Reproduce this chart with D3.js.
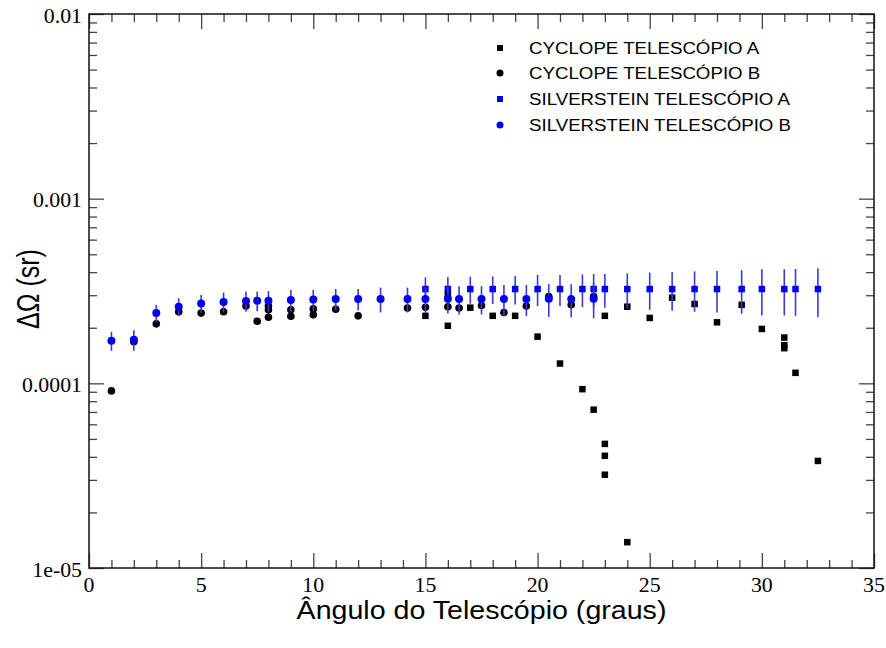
<!DOCTYPE html>
<html>
<head>
<meta charset="utf-8">
<script src="https://cdn.jsdelivr.net/npm/d3@7"></script>
<style>
  html, body { margin: 0; padding: 0; background: #fff; }
  svg { display: block; }
</style>
</head>
<body>
<svg id="chart" width="886" height="648"></svg>
<script>
// Solid angle of each telescope vs. telescope angle
const cyclopeA_x = [15, 16, 16, 17, 18, 19, 20, 21, 22, 22.5, 23, 23, 23, 23, 24, 24, 25, 26, 27, 28, 29.1, 30, 31, 31, 31, 31.5, 32.5];
const cyclopeA_y = [2.32e-4, 2.05e-4, 3.05e-4, 2.57e-4, 2.32e-4, 2.32e-4, 1.79e-4, 1.28e-4, 9.3e-5, 7.2e-5, 2.32e-4, 4.7e-5, 4.05e-5, 3.2e-5, 2.6e-4, 1.38e-5, 2.26e-4, 2.91e-4, 2.69e-4, 2.14e-4, 2.66e-4, 1.97e-4, 1.77e-4, 1.61e-4, 1.55e-4, 1.14e-4, 3.8e-5];

const cyclopeB_x = [1, 2, 3, 4, 5, 6, 7, 7.5, 8, 8, 8, 9, 9, 10, 10, 11, 12, 14.2, 15, 16, 16.5, 17.5, 18.5, 19.5, 20.5, 21.5, 22.5];
const cyclopeB_y = [9.1e-5, 1.68e-4, 2.10e-4, 2.44e-4, 2.40e-4, 2.44e-4, 2.62e-4, 2.17e-4, 2.62e-4, 2.50e-4, 2.28e-4, 2.50e-4, 2.31e-4, 2.53e-4, 2.35e-4, 2.52e-4, 2.32e-4, 2.56e-4, 2.58e-4, 2.60e-4, 2.56e-4, 2.64e-4, 2.42e-4, 2.62e-4, 2.95e-4, 2.66e-4, 2.95e-4];

const silverA_x = [15, 16, 17, 18, 19, 20, 21, 22, 22.5, 23, 24, 25, 26, 27, 28, 29.1, 30, 31, 31.5, 32.5];
const silverA_y = [3.24e-4, 3.24e-4, 3.24e-4, 3.24e-4, 3.24e-4, 3.24e-4, 3.24e-4, 3.24e-4, 3.24e-4, 3.24e-4, 3.24e-4, 3.24e-4, 3.24e-4, 3.24e-4, 3.24e-4, 3.24e-4, 3.24e-4, 3.24e-4, 3.24e-4, 3.24e-4];
const silverA_err = [0.50e-4, 0.52e-4, 0.54e-4, 0.55e-4, 0.57e-4, 0.62e-4, 0.62e-4, 0.65e-4, 0.67e-4, 0.67e-4, 0.70e-4, 0.74e-4, 0.77e-4, 0.80e-4, 0.82e-4, 0.86e-4, 0.91e-4, 0.91e-4, 0.92e-4, 0.96e-4];

const silverB_x = [1, 2, 3, 4, 5, 6, 7, 7.5, 8, 9, 10, 11, 12, 13, 14.2, 15, 16, 16.5, 17.5, 18.5, 19.5, 20.5, 21.5, 22.5];
const silverB_y = [1.70e-4, 1.72e-4, 2.40e-4, 2.60e-4, 2.71e-4, 2.76e-4, 2.79e-4, 2.80e-4, 2.80e-4, 2.83e-4, 2.84e-4, 2.86e-4, 2.86e-4, 2.86e-4, 2.86e-4, 2.86e-4, 2.87e-4, 2.86e-4, 2.86e-4, 2.86e-4, 2.86e-4, 2.87e-4, 2.86e-4, 2.87e-4];
const silverB_err = [0.20e-4, 0.22e-4, 0.26e-4, 0.29e-4, 0.30e-4, 0.34e-4, 0.35e-4, 0.34e-4, 0.36e-4, 0.37e-4, 0.37e-4, 0.38e-4, 0.38e-4, 0.44e-4, 0.44e-4, 0.46e-4, 0.48e-4, 0.50e-4, 0.50e-4, 0.55e-4, 0.55e-4, 0.58e-4, 0.58e-4, 0.62e-4];

const xMajorTicks = [0, 5, 10, 15, 20, 25, 30, 35];
const xTickLabels = ["0", "5", "10", "15", "20", "25", "30", "35"];
const yMajorTicks = [1e-5, 1e-4, 1e-3, 1e-2];
const yTickLabels = ["1e-05", "0.0001", "0.001", "0.01"];
const legendLabels = ["CYCLOPE TELESCÓPIO A", "CYCLOPE TELESCÓPIO B", "SILVERSTEIN TELESCÓPIO A", "SILVERSTEIN TELESCÓPIO B"];

const svg = d3.select("#chart");
const L = 89, R = 874, T = 14, B = 568;
const x = d3.scaleLinear().domain([0, 35]).range([L, R]);
const y = d3.scaleLog().domain([1e-5, 1e-2]).range([B, T]);

const xMinor = d3.range(0, 36, 1).filter(v => v % 5 !== 0);
const yMinor = [];
[1e-5, 1e-4, 1e-3].forEach(d => { for (let k = 2; k <= 9; k++) yMinor.push(d * k); });

const tickCol = "#444";
const majorLen = 15, minorLen = 8;
const serif = "'Liberation Serif', 'Times New Roman', serif";
const sans = "'Liberation Sans', Arial, sans-serif";
const stretch = 1.1;   // glyphs are drawn slightly wide

function styleTicks(g) {
  g.select(".domain").remove();
  g.selectAll(".tick line").attr("stroke", tickCol).attr("stroke-width", 1.3);
  g.selectAll(".tick text").remove();
}

function ticks(axisFn, scale, transform, values, len) {
  svg.append("g").attr("transform", transform)
    .call(axisFn(scale).tickValues(values).tickSizeInner(-len).tickSizeOuter(0).tickFormat(""))
    .call(styleTicks);
}

// inward ticks on all four sides
ticks(d3.axisBottom, x, `translate(0,${B})`, xMajorTicks, majorLen);
ticks(d3.axisBottom, x, `translate(0,${B})`, xMinor, minorLen);
ticks(d3.axisTop, x, `translate(0,${T})`, xMajorTicks, majorLen);
ticks(d3.axisTop, x, `translate(0,${T})`, xMinor, minorLen);
ticks(d3.axisLeft, y, `translate(${L},0)`, yMajorTicks, majorLen);
ticks(d3.axisLeft, y, `translate(${L},0)`, yMinor, minorLen);
ticks(d3.axisRight, y, `translate(${R},0)`, yMajorTicks, majorLen);
ticks(d3.axisRight, y, `translate(${R},0)`, yMinor, minorLen);

// tick labels
svg.append("g").selectAll("text").data(xMajorTicks).join("text")
  .attr("transform", d => `translate(${x(d)},${B + 24}) scale(1.04,1)`)
  .attr("text-anchor", "middle").attr("font-family", serif).attr("font-size", 21).attr("fill", "#000")
  .text((d, i) => xTickLabels[i]);
svg.append("g").selectAll("text").data(yMajorTicks).join("text")
  .attr("transform", d => `translate(${L - 7},${y(d) + 8.5}) scale(1.04,1)`)
  .attr("text-anchor", "end").attr("font-family", serif).attr("font-size", 21).attr("fill", "#000")
  .text((d, i) => yTickLabels[i]);

// frame
svg.append("rect").attr("x", L).attr("y", T).attr("width", R - L).attr("height", B - T)
  .attr("fill", "none").attr("stroke", "#111").attr("stroke-width", 1.5);

const blue = "#0000f0";
const errCol = "#3a3ad8";
const plot = svg.append("g");

function squares(xs, ys, col, size) {
  plot.append("g").selectAll("rect").data(xs.map((v, i) => [v, ys[i]])).join("rect")
    .attr("x", d => x(d[0]) - size / 2).attr("y", d => y(d[1]) - size / 2)
    .attr("width", size).attr("height", size).attr("fill", col);
}
function circles(xs, ys, col, r) {
  plot.append("g").selectAll("circle").data(xs.map((v, i) => [v, ys[i]])).join("circle")
    .attr("cx", d => x(d[0])).attr("cy", d => y(d[1])).attr("r", r).attr("fill", col);
}
function errBars(xs, ys, es) {
  plot.append("g").selectAll("line").data(xs.map((v, i) => [v, ys[i], es[i]])).join("line")
    .attr("x1", d => x(d[0])).attr("x2", d => x(d[0]))
    .attr("y1", d => y(d[1] + d[2])).attr("y2", d => y(d[1] - d[2]))
    .attr("stroke", errCol).attr("stroke-width", 1.6);
}

squares(cyclopeA_x, cyclopeA_y, "#000", 6.5);
circles(cyclopeB_x, cyclopeB_y, "#000", 3.8);
errBars(silverA_x, silverA_y, silverA_err);
squares(silverA_x, silverA_y, blue, 6.5);
errBars(silverB_x, silverB_y, silverB_err);
circles(silverB_x, silverB_y, blue, 4);

// legend
const legY = [48, 73, 99, 125];
const lg = svg.append("g");
const legX = 500;
lg.append("rect").attr("x", legX - 3).attr("y", legY[0] - 3).attr("width", 6).attr("height", 6).attr("fill", "#000");
lg.append("circle").attr("cx", legX).attr("cy", legY[1]).attr("r", 3.5).attr("fill", "#000");
lg.append("rect").attr("x", legX - 3).attr("y", legY[2] - 3).attr("width", 6).attr("height", 6).attr("fill", blue);
lg.append("circle").attr("cx", legX).attr("cy", legY[3]).attr("r", 3.5).attr("fill", blue);
lg.selectAll("text").data(legendLabels).join("text")
  .attr("transform", (d, i) => `translate(529,${legY[i] + 6}) scale(${stretch},1)`)
  .attr("font-family", sans).attr("font-size", 17).attr("fill", "#000")
  .text(d => d);

// axis titles
svg.append("text").attr("transform", `translate(${(L + R) / 2},619) scale(${stretch},1)`).attr("text-anchor", "middle")
  .attr("font-family", sans).attr("font-size", 26).attr("fill", "#000")
  .text("Ângulo do Telescópio (graus)");
svg.append("text").attr("transform", `translate(39,${(T + B) / 2 - 2}) rotate(-90) scale(1,1.25)`).attr("text-anchor", "middle")
  .attr("font-family", sans).attr("font-size", 25).attr("fill", "#000")
  .text("ΔΩ (sr)");
</script>
</body>
</html>
